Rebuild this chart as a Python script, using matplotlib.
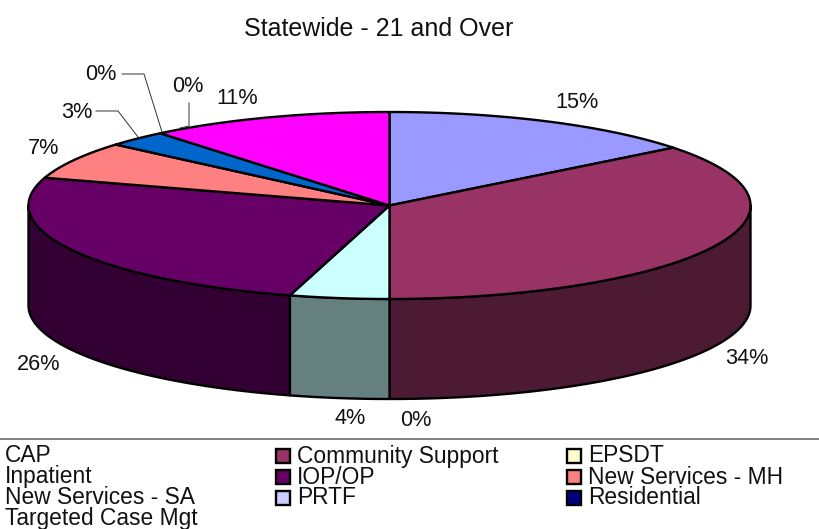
import matplotlib
matplotlib.use("Agg")
import matplotlib.pyplot as plt
from matplotlib.patches import Polygon, Rectangle
import numpy as np

plt.rcParams['font.family'] = ['Liberation Sans', 'DejaVu Sans']

title = "Statewide - 21 and Over"
categories = ["CAP", "Community Support", "EPSDT", "Inpatient", "IOP/OP",
              "New Services - MH", "New Services - SA", "PRTF", "Residential",
              "Targeted Case Mgt"]
# share of the circle as drawn, clockwise from 12 o'clock
shares = [14.4, 35.6, 0.0, 4.45, 25.35, 6.5, 2.75, 0.0, 0.0, 10.95]
labels = ["15%", "34%", "0%", "4%", "26%", "7%", "3%", "0%", "0%", "11%"]
colors = ["#9999FF", "#993366", "#FFFFCC", "#CCFFFF", "#660066",
          "#FF8080", "#0066CC", "#CCCCFF", "#000080", "#FF00FF"]
side_colors = ["#4D4D80", "#4D1A33", "#808066", "#668080", "#330033",
               "#804040", "#003366", "#666680", "#000040", "#800080"]
legend_colors = [None, "#993366", "#FFFFCC", None, "#660066", "#FF8080",
                 None, "#CCCCFF", "#000080", None]

# pie geometry in pixels
cx, cy, rx, ry, depth = 389.5, 205.5, 361, 93.5, 100
label_pos = [(577, 102), (747, 359), (416, 421), (350, 419), (39, 365),
             (44, 149), (77, 113), (101, 75), (188, 87), (237, 98)]


def ellipse_pts(a0, a1, n=200):
    a = np.linspace(a0, a1, n)
    return cx + rx * np.sin(a), cy - ry * np.cos(a)


fig = plt.figure(figsize=(8.19, 5.29), dpi=100)
ax = fig.add_axes([0, 0, 1, 1])
ax.set_xlim(0, 819)
ax.set_ylim(529, 0)
ax.axis("off")

edges = np.cumsum([0] + shares) / sum(shares) * 2 * np.pi

# side walls, only the front half of the rim shows
for i in range(len(shares)):
    a0 = max(edges[i], np.pi / 2)
    a1 = min(edges[i + 1], 3 * np.pi / 2)
    if a1 <= a0:
        continue
    x, y = ellipse_pts(a0, a1)
    pts = np.r_[np.c_[x, y], np.c_[x[::-1], y[::-1] + depth]]
    ax.add_patch(Polygon(pts, closed=True, fc=side_colors[i], ec="black",
                         lw=1.7, joinstyle="round"))

# top of the pie
for i in range(len(shares)):
    if shares[i] == 0:
        continue
    x, y = ellipse_pts(edges[i], edges[i + 1])
    pts = np.r_[[[cx, cy]], np.c_[x, y]]
    ax.add_patch(Polygon(pts, closed=True, fc=colors[i], ec="black",
                         lw=1.7, joinstyle="round"))

# data labels
for lab, (lx, ly) in zip(labels, label_pos):
    ax.text(lx, ly, lab, fontsize=15.6, color="#111111", ha="center", va="center")

# leader lines
ax.plot([122, 144, 162], [74, 74, 132], color="#333333", lw=0.7)
ax.plot([96, 118, 138], [111, 111, 137], color="#333333", lw=0.7)
ax.plot([189, 189, 180], [103, 126, 128], color="#333333", lw=0.7)

ax.text(379, 28.5, title, fontsize=18, color="#111111", ha="center", va="center")

# legend
ax.plot([0, 819], [439, 439], color="#808080", lw=1.4)
col_x = [5, 297, 588]
row_y = [456, 477, 498, 519]
for i, name in enumerate(categories):
    r, c = i // 3, i % 3
    ax.text(col_x[c], row_y[r], name, fontsize=16.4, color="#111111",
            ha="left", va="center")
    if legend_colors[i] is not None:
        ax.add_patch(Rectangle((col_x[c] - 21.5, row_y[r] - 7), 14, 14,
                               fc=legend_colors[i], ec="black", lw=1.7))

fig.savefig("out.png", dpi=100)
plt.close(fig)
